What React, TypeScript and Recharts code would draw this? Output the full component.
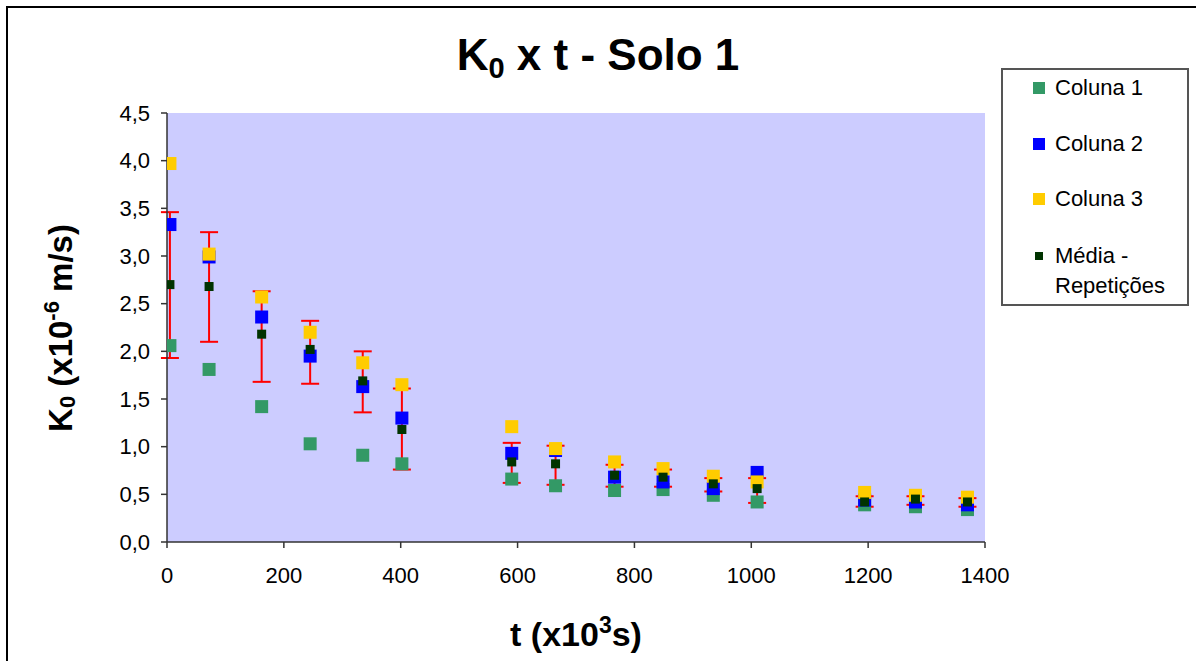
import React from 'react';
import { ScatterChart, Scatter, XAxis, YAxis, CartesianGrid, ErrorBar, Legend, Label } from 'recharts';

// t (x10^3 s)
const tempo = [5, 72, 162, 245, 335, 402, 590, 665, 766, 849, 935, 1010, 1194, 1281, 1370];

// K0 (x10^-6 m/s)
const coluna1 = [2.06, 1.81, 1.42, 1.03, 0.91, 0.82, 0.66, 0.59, 0.54, 0.55, 0.49, 0.42, 0.39, 0.37, 0.34];
const coluna2 = [3.33, 2.99, 2.36, 1.95, 1.63, 1.30, 0.93, 0.96, 0.68, 0.63, 0.56, 0.73, 0.44, 0.42, 0.39];
const coluna3 = [3.97, 3.02, 2.57, 2.20, 1.88, 1.65, 1.21, 0.98, 0.84, 0.77, 0.69, 0.63, 0.52, 0.49, 0.47];
const media = [2.70, 2.68, 2.18, 2.02, 1.69, 1.18, 0.84, 0.82, 0.70, 0.68, 0.61, 0.56, 0.42, 0.45, 0.42];
const erroAcima = [0.76, 0.57, 0.45, 0.30, 0.31, 0.43, 0.20, 0.19, 0.11, 0.08, 0.06, 0.11, 0.06, 0.03, 0.04];
const erroAbaixo = [0.77, 0.58, 0.50, 0.36, 0.33, 0.42, 0.22, 0.22, 0.12, 0.10, 0.08, 0.15, 0.05, 0.06, 0.05];

const xTicks = [0, 200, 400, 600, 800, 1000, 1200, 1400];
const yTicks = [0, 0.5, 1, 1.5, 2, 2.5, 3, 3.5, 4, 4.5];

const FONTE = "'Liberation Sans', Arial, sans-serif";

const series = [
    { nome: 'Coluna 1', valores: coluna1, cor: '#339966', lado: 13 },
    { nome: 'Coluna 2', valores: coluna2, cor: '#0000ff', lado: 13 },
    { nome: 'Coluna 3', valores: coluna3, cor: '#ffcc00', lado: 13 },
];

const pontos = (valores: number[]) => tempo.map((t, i) => ({ t, k: valores[i] }));

const dadosMedia = tempo.map((t, i) => ({ t, k: media[i], erro: [erroAbaixo[i], erroAcima[i]] }));

const quadrado = (cor: string, lado: number) => (props: any) => {
    const { cx, cy } = props;
    if (cx == null || cy == null) return <g />;
    return <rect x={cx - lado / 2} y={cy - lado / 2} width={lado} height={lado} fill={cor} />;
};

const nada = () => <g />;

const itensLegenda = [
    { linhas: ['Coluna 1'], cor: '#339966', lado: 12, y: 18 },
    { linhas: ['Coluna 2'], cor: '#0000ff', lado: 12, y: 74 },
    { linhas: ['Coluna 3'], cor: '#ffcc00', lado: 12, y: 129 },
    { linhas: ['Média -', 'Repetições'], cor: '#003300', lado: 8, y: 186 },
];

const CaixaLegenda = () => (
    <div style={{ position: 'relative', width: 188, height: 238, border: '2px solid #555', boxSizing: 'border-box', background: '#fff', fontFamily: FONTE, fontSize: 22, color: '#000' }}>
        {itensLegenda.map(item => (
            <React.Fragment key={item.linhas[0]}>
                <div style={{ position: 'absolute', left: 36 - item.lado / 2, top: item.y - item.lado / 2, width: item.lado, height: item.lado, background: item.cor }} />
                {item.linhas.map((linha, j) => (
                    <div key={linha} style={{ position: 'absolute', left: 52, top: item.y + j * 30 - 13, lineHeight: '26px', whiteSpace: 'nowrap' }}>
                        {linha}
                    </div>
                ))}
            </React.Fragment>
        ))}
    </div>
);

const TituloX = () => (
    <text x={576} y={646} textAnchor="middle" fontFamily={FONTE} fontSize={34} fontWeight="bold" fill="#000">
        t (x10<tspan dy={-13} fontSize={23}>3</tspan><tspan dy={13}>s)</tspan>
    </text>
);

const TituloY = () => (
    <text x={0} y={0} transform="translate(72, 328) rotate(-90)" textAnchor="middle" fontFamily={FONTE} fontSize={33} fontWeight="bold" fill="#000">
        K<tspan fontSize={22} dy={3}>0</tspan><tspan dy={-3}> (x10</tspan><tspan dy={-13} fontSize={22}>-6</tspan><tspan dy={13}> m/s)</tspan>
    </text>
);

export default function App() {
    return (
        <div style={{ position: 'absolute', left: 0, top: 0, width: 1196, height: 661, overflow: 'hidden', background: '#fff' }}>
            <div style={{ position: 'absolute', left: 6, top: 6, width: 1300, height: 800, border: '2px solid #000' }} />
            <ScatterChart width={1196} height={661} margin={{ top: 113, right: 211, bottom: 89, left: 107 }} style={{ fontFamily: FONTE }}>
                <CartesianGrid fill="#ccccff" horizontal={false} vertical={false} />
                <XAxis
                    type="number"
                    dataKey="t"
                    domain={[0, 1400]}
                    ticks={xTicks}
                    tickSize={6}
                    tickMargin={19}
                    stroke="#333"
                    strokeWidth={1.5}
                    tick={{ fill: '#000', fontSize: 22 }}
                    allowDataOverflow
                >
                    <Label content={TituloX} />
                </XAxis>
                <YAxis
                    type="number"
                    dataKey="k"
                    width={60}
                    domain={[0, 4.5]}
                    ticks={yTicks}
                    tickSize={6}
                    tickMargin={11}
                    stroke="#333"
                    strokeWidth={1.5}
                    tick={{ fill: '#000', fontSize: 22 }}
                    tickFormatter={(v: number) => v.toFixed(1).replace('.', ',')}
                    allowDataOverflow
                >
                    <Label content={TituloY} />
                </YAxis>

                {/* barras de erro por baixo dos marcadores */}
                <Scatter name="erro" data={dadosMedia} shape={nada} legendType="none" isAnimationActive={false}>
                    <ErrorBar dataKey="erro" direction="y" width={9} stroke="#ff0000" strokeWidth={2} isAnimationActive={false} />
                </Scatter>

                {series.map(s => (
                    <Scatter key={s.nome} name={s.nome} data={pontos(s.valores)} shape={quadrado(s.cor, s.lado)} isAnimationActive={false} />
                ))}

                <Scatter name="Média - Repetições" data={dadosMedia} shape={quadrado('#003300', 9)} isAnimationActive={false} />

                <text x={598} y={70} textAnchor="middle" fontFamily={FONTE} fontSize={44} fontWeight="bold" fill="#000">
                    K<tspan fontSize={29} dy={8}>0</tspan><tspan dy={-8}> x t - Solo 1</tspan>
                </text>

                <Legend
                    layout="horizontal"
                    verticalAlign="middle"
                    align="center"
                    wrapperStyle={{ left: 1001, top: 68, width: 188, height: 238 }}
                    content={() => <CaixaLegenda />}
                />
            </ScatterChart>
        </div>
    );
}
